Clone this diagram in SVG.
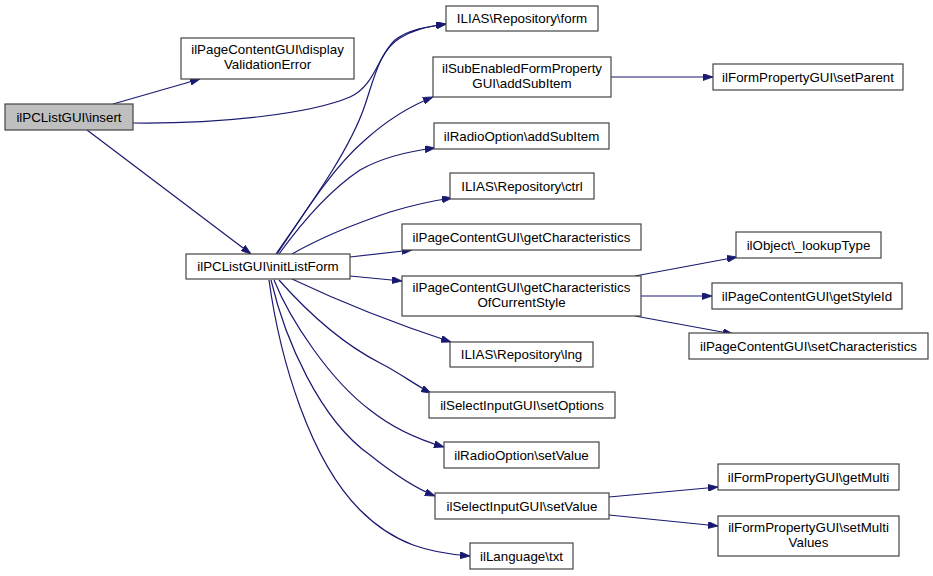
<svg xmlns="http://www.w3.org/2000/svg" width="933" height="576" viewBox="0 0 933 576">
<style>
.n rect{fill:#ffffff;stroke:#444444;stroke-width:1.2}
.n.root rect{fill:#bfbfbf}
.n text{font-family:"Liberation Sans",Arial,sans-serif;font-size:13.33px;fill:#000;text-anchor:middle}
.e path{fill:none;stroke:#191970;stroke-width:1.2;marker-end:url(#ah)}
</style>
<defs>
<marker id="ah" viewBox="0 0 10 7" refX="10" refY="3.5" markerWidth="10" markerHeight="7" markerUnits="userSpaceOnUse" orient="auto">
<path d="M0,0 L10,3.5 L0,7 z" fill="#191970" stroke="#191970" stroke-width="0.8"/>
</marker>
</defs>
<rect width="933" height="576" fill="#ffffff"/>
<g id="connectors" class="e">
<path d="M113,104 L200,79"/>
<path d="M133,123 C220,124 310,114 350,97 C375,86 378,55 395,40 C408,30 425,27 446,24"/>
<path d="M87,130 L251,254"/>
<path d="M276,254 C310,205 350,150 365,105 C375,75 380,50 400,38 C413,30 425,27 446,24"/>
<path d="M277,254 C300,220 330,170 365,140 C385,122 405,108 433,97"/>
<path d="M279,254 C300,225 330,190 360,170 C385,156 410,151 435,148"/>
<path d="M292,254 C320,238 360,222 390,212 C410,206 430,201 452,198"/>
<path d="M350,257 L412,250"/>
<path d="M350,276 L402,281"/>
<path d="M292,279 C330,297 390,322 451,342"/>
<path d="M279,280 C310,315 345,345 380,363 C400,373 415,385 431,393"/>
<path d="M274,280 C290,320 330,380 370,410 C395,430 420,440 444,447"/>
<path d="M271,280 C285,340 320,420 370,455 C395,475 415,488 435,496"/>
<path d="M269,280 C280,360 310,460 360,510 C395,545 430,553 470,556"/>
<path d="M611,77 L713,77"/>
<path d="M635,276 L737,257"/>
<path d="M641,296 L712,296"/>
<path d="M635,316 L733,334"/>
<path d="M609,497 L718,487"/>
<path d="M609,515 L718,526"/>
</g>
<g id="insert" class="n root"><rect x="5" y="104" width="128" height="26"/><text x="69" y="121.5">ilPCListGUI\insert</text></g>
<g id="displayValidationError" class="n"><rect x="181" y="38" width="173" height="41"/><text x="267.5" y="53.5">ilPageContentGUI\display</text><text x="267.5" y="68.5">ValidationError</text></g>
<g id="initListForm" class="n"><rect x="186" y="254" width="164" height="25"/><text x="268" y="271">ilPCListGUI\initListForm</text></g>
<g id="form" class="n"><rect x="446" y="6" width="152" height="25"/><text x="522" y="23">ILIAS\Repository\form</text></g>
<g id="subEnabledAddSubItem" class="n"><rect x="433" y="57" width="178" height="40"/><text x="522" y="72.5">ilSubEnabledFormProperty</text><text x="522" y="87.5">GUI\addSubItem</text></g>
<g id="radioAddSubItem" class="n"><rect x="434" y="123" width="175" height="26"/><text x="521.5" y="140.5">ilRadioOption\addSubItem</text></g>
<g id="ctrl" class="n"><rect x="450" y="173" width="144" height="26"/><text x="522" y="190.5">ILIAS\Repository\ctrl</text></g>
<g id="getCharacteristics" class="n"><rect x="402" y="224" width="239" height="26"/><text x="521.5" y="241.5">ilPageContentGUI\getCharacteristics</text></g>
<g id="getCharacteristicsOfCurrentStyle" class="n"><rect x="402" y="276" width="239" height="40"/><text x="521.5" y="291.5">ilPageContentGUI\getCharacteristics</text><text x="521.5" y="306.5">OfCurrentStyle</text></g>
<g id="lng" class="n"><rect x="450" y="342" width="143" height="25"/><text x="521.5" y="359">ILIAS\Repository\lng</text></g>
<g id="setOptions" class="n"><rect x="429" y="392" width="186" height="26"/><text x="522" y="409.5">ilSelectInputGUI\setOptions</text></g>
<g id="radioSetValue" class="n"><rect x="444" y="442" width="155" height="26"/><text x="521.5" y="459.5">ilRadioOption\setValue</text></g>
<g id="selectSetValue" class="n"><rect x="435" y="493" width="174" height="26"/><text x="522" y="510.5">ilSelectInputGUI\setValue</text></g>
<g id="txt" class="n"><rect x="470" y="543" width="103" height="26"/><text x="521.5" y="560.5">ilLanguage\txt</text></g>
<g id="setParent" class="n"><rect x="713" y="64" width="190" height="26"/><text x="808" y="81.5">ilFormPropertyGUI\setParent</text></g>
<g id="lookupType" class="n"><rect x="736" y="232" width="145" height="26"/><text x="808.5" y="249.5">ilObject\_lookupType</text></g>
<g id="getStyleId" class="n"><rect x="712" y="283" width="190" height="26"/><text x="807" y="300.5">ilPageContentGUI\getStyleId</text></g>
<g id="setCharacteristics" class="n"><rect x="689" y="333" width="239" height="26"/><text x="808.5" y="350.5">ilPageContentGUI\setCharacteristics</text></g>
<g id="getMulti" class="n"><rect x="718" y="464" width="181" height="26"/><text x="808.5" y="481.5">ilFormPropertyGUI\getMulti</text></g>
<g id="setMultiValues" class="n"><rect x="718" y="516" width="181" height="40"/><text x="808.5" y="531.5">ilFormPropertyGUI\setMulti</text><text x="808.5" y="546.5">Values</text></g>
</svg>
